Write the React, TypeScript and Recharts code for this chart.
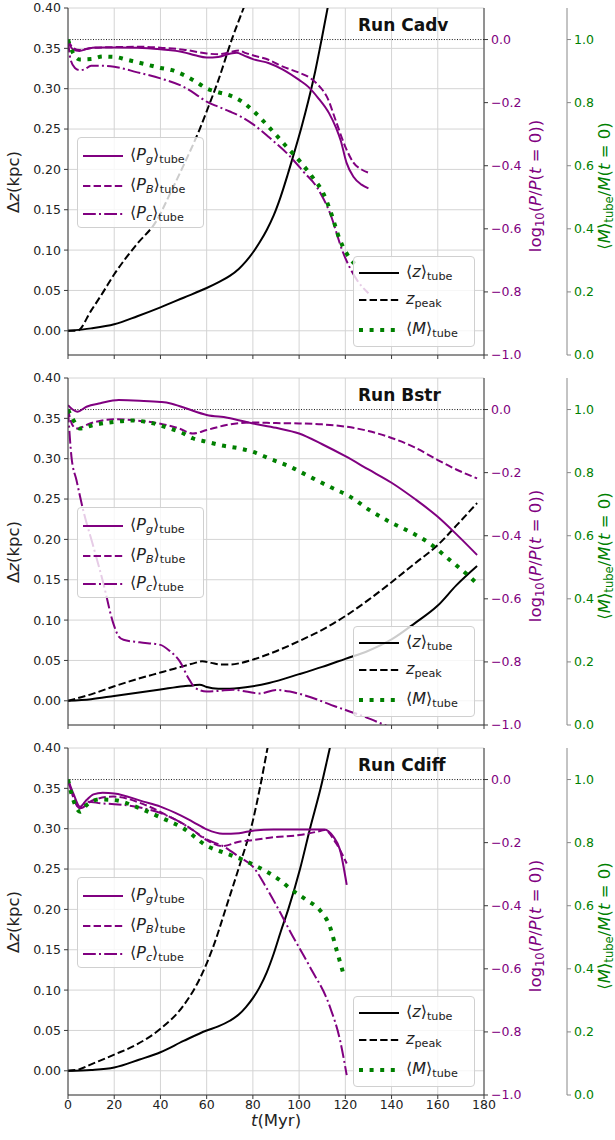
import React from 'react';
import { LineChart, Line, XAxis, YAxis, CartesianGrid, ReferenceLine } from 'recharts';

type Pt = [number, number];

// ---- tick values ----
const timeTicks = [0, 20, 40, 60, 80, 100, 120, 140, 160, 180];
const zTicks = [0, 0.05, 0.1, 0.15, 0.2, 0.25, 0.3, 0.35, 0.4];
const pTicks = [-1, -0.8, -0.6, -0.4, -0.2, 0];
const mTicks = [0, 0.2, 0.4, 0.6, 0.8, 1.0];

// ---- Run Cadv ----
const cadvZTube: Pt[] = [[0, 0], [10, 0.003], [20, 0.008], [30, 0.018], [40, 0.029], [50, 0.041], [60, 0.053], [65, 0.06], [70, 0.068], [74, 0.077], [77, 0.086], [80, 0.097], [83, 0.11], [86, 0.125], [89, 0.143], [92, 0.166], [95, 0.193], [98, 0.222], [101, 0.252], [104, 0.285], [107, 0.322], [110, 0.365], [113, 0.41]];
const cadvZPeak: Pt[] = [[0, 0], [4, 0], [10, 0.025], [15, 0.047], [20, 0.07], [25, 0.09], [30, 0.108], [38, 0.135], [45, 0.175], [50, 0.205], [57, 0.25], [60, 0.272], [65, 0.31], [71, 0.362], [76, 0.4], [78, 0.415]];
const cadvPg: Pt[] = [[0, -0.005], [2, -0.03], [5, -0.036], [8, -0.03], [12, -0.025], [20, -0.025], [30, -0.026], [40, -0.031], [50, -0.04], [55, -0.05], [60, -0.057], [65, -0.055], [70, -0.045], [73, -0.042], [76, -0.05], [80, -0.062], [87, -0.075], [93, -0.095], [100, -0.128], [104, -0.15], [108, -0.183], [113, -0.234], [116, -0.28], [118, -0.32], [120.5, -0.39], [123.5, -0.435], [127, -0.46], [130, -0.472]];
const cadvPB: Pt[] = [[0, 0], [2, -0.025], [5, -0.033], [10, -0.027], [20, -0.024], [32, -0.023], [40, -0.026], [50, -0.032], [60, -0.044], [65, -0.047], [70, -0.04], [74, -0.035], [77, -0.043], [80, -0.05], [87, -0.065], [93, -0.086], [100, -0.105], [105, -0.123], [109, -0.15], [112, -0.181], [116, -0.26], [120, -0.34], [123.5, -0.39], [127, -0.412], [130, -0.422]];
const cadvPc: Pt[] = [[0, 0], [1, -0.06], [3, -0.09], [5, -0.097], [7, -0.095], [10, -0.083], [15, -0.083], [20, -0.086], [30, -0.104], [40, -0.123], [50, -0.15], [55, -0.172], [60, -0.197], [65, -0.213], [70, -0.228], [75, -0.245], [80, -0.268], [87, -0.31], [96, -0.37], [102, -0.42], [107.6, -0.467], [113.4, -0.551], [119, -0.675], [125, -0.762], [130, -0.804]];
const cadvM: Pt[] = [[0, 1.0], [2, 0.96], [5, 0.937], [10, 0.938], [15, 0.946], [20, 0.945], [25, 0.937], [30, 0.928], [35, 0.919], [40, 0.91], [45, 0.903], [50, 0.888], [55, 0.868], [60, 0.845], [65, 0.833], [70, 0.823], [75, 0.805], [80, 0.775], [87, 0.722], [94, 0.665], [101, 0.608], [107, 0.552], [110, 0.52], [113.4, 0.459], [117.7, 0.364], [122, 0.306], [125.6, 0.28]];

// ---- Run Bstr ----
const bstrZTube: Pt[] = [[0, 0], [10, 0.002], [20, 0.006], [30, 0.01], [40, 0.014], [50, 0.018], [54, 0.019], [57, 0.02], [60, 0.017], [65, 0.015], [70, 0.015], [80, 0.018], [87, 0.022], [100, 0.033], [110, 0.042], [120, 0.052], [130, 0.062], [140, 0.076], [150, 0.096], [160, 0.118], [168, 0.143], [177, 0.167]];
const bstrZPeak: Pt[] = [[0, 0], [10, 0.008], [20, 0.018], [30, 0.027], [40, 0.035], [50, 0.043], [55, 0.047], [58, 0.049], [62, 0.047], [66, 0.045], [70, 0.045], [75, 0.047], [80, 0.051], [87, 0.058], [100, 0.074], [110, 0.088], [120, 0.105], [130, 0.125], [140, 0.147], [150, 0.17], [160, 0.193], [168, 0.217], [177, 0.245]];
const bstrPg: Pt[] = [[0, 0.014], [2, 0.0], [4, -0.007], [8, 0.009], [14, 0.02], [22, 0.03], [31, 0.028], [40, 0.024], [44, 0.02], [51, 0.004], [60, -0.017], [69, -0.026], [80, -0.044], [90, -0.058], [100, -0.076], [110, -0.11], [120, -0.148], [130, -0.19], [140, -0.232], [150, -0.283], [160, -0.34], [168, -0.395], [177, -0.461]];
const bstrPB: Pt[] = [[0, 0], [2, -0.05], [4, -0.06], [9.5, -0.044], [20, -0.031], [30, -0.035], [40, -0.045], [48, -0.06], [54, -0.076], [60, -0.065], [68, -0.05], [80, -0.041], [90, -0.043], [100, -0.044], [110, -0.047], [120, -0.054], [130, -0.068], [140, -0.09], [150, -0.12], [160, -0.16], [168, -0.19], [177, -0.218]];
const bstrPc: Pt[] = [[0, 0], [1.5, -0.15], [3.7, -0.225], [6.6, -0.32], [11, -0.435], [15.3, -0.551], [19.6, -0.678], [22, -0.72], [24, -0.73], [31, -0.738], [40, -0.746], [44, -0.765], [48.5, -0.8], [52, -0.85], [55, -0.882], [60, -0.894], [65, -0.892], [71.5, -0.888], [77, -0.894], [83, -0.9], [90, -0.889], [96, -0.894], [102, -0.905], [116, -0.942], [128, -0.973], [137, -1.0], [142, -1.015]];
const bstrM: Pt[] = [[0, 1.0], [2.3, 0.967], [5, 0.94], [11, 0.951], [20, 0.961], [28, 0.965], [37, 0.956], [44, 0.94], [50, 0.924], [54, 0.909], [60, 0.898], [66, 0.887], [74, 0.877], [80, 0.866], [87, 0.845], [96, 0.819], [104.6, 0.787], [113.3, 0.755], [122, 0.724], [130.5, 0.681], [139.2, 0.644], [147.8, 0.613], [156.5, 0.576], [165.2, 0.523], [173.8, 0.47], [176.8, 0.449]];

// ---- Run Cdiff ----
const cdiffZTube: Pt[] = [[0, 0], [10, 0.001], [20, 0.004], [31, 0.014], [40, 0.023], [50, 0.037], [60, 0.05], [65, 0.055], [70, 0.062], [74, 0.07], [77, 0.079], [80, 0.09], [83, 0.104], [86, 0.122], [89, 0.145], [92, 0.172], [95.3, 0.2], [100.4, 0.25], [104.7, 0.3], [109.3, 0.35], [113.3, 0.4], [114.5, 0.415]];
const cdiffZPeak: Pt[] = [[0, 0], [5, 0.002], [10, 0.008], [20, 0.02], [30, 0.033], [40, 0.052], [50, 0.081], [57, 0.114], [63, 0.155], [68.7, 0.205], [74.4, 0.256], [80, 0.31], [83, 0.35], [86, 0.395], [87, 0.41]];
const cdiffPg: Pt[] = [[0, 0], [2.3, -0.044], [5.2, -0.086], [8, -0.065], [11, -0.047], [15, -0.042], [20, -0.044], [32.6, -0.07], [40, -0.086], [48.5, -0.113], [54, -0.134], [60, -0.158], [67, -0.172], [74, -0.17], [80, -0.162], [89, -0.158], [100, -0.158], [111, -0.158], [114.8, -0.181], [117.7, -0.223], [120.6, -0.334]];
const cdiffPB: Pt[] = [[0, 0], [5.2, -0.091], [11, -0.065], [19.6, -0.054], [32.6, -0.078], [44, -0.118], [52, -0.15], [60, -0.192], [67, -0.211], [74, -0.197], [80, -0.192], [89, -0.183], [100, -0.176], [108, -0.165], [111, -0.16], [116, -0.202], [120.6, -0.266]];
const cdiffPc: Pt[] = [[0, 0], [5.2, -0.091], [8, -0.07], [15, -0.076], [20, -0.078], [32.6, -0.091], [44, -0.118], [54, -0.16], [60, -0.19], [67, -0.211], [74, -0.245], [80, -0.276], [86, -0.345], [91.7, -0.42], [96, -0.48], [104.6, -0.593], [113.3, -0.72], [117.7, -0.826], [120.6, -0.937]];
const cdiffM: Pt[] = [[0, 1.0], [2.3, 0.935], [5.2, 0.898], [8, 0.919], [13.8, 0.937], [20, 0.935], [30, 0.912], [40, 0.88], [50, 0.845], [60, 0.79], [68.7, 0.765], [77.3, 0.74], [86, 0.708], [91.7, 0.681], [96, 0.655], [103.2, 0.618], [109, 0.586], [113.3, 0.534], [116.2, 0.46], [119.1, 0.386]];

const PURPLE = '#800080';
const GREEN = '#008000';
const SPINE = '#3a3a3a';
const FONT = '"DejaVu Sans", sans-serif';

const toRows = (pts: Pt[]) => pts.map(([t, v]) => ({ t, v }));

const fmtP = (v: number) => (Math.abs(v) < 1e-9 ? '0.0' : (v < 0 ? '\u2212' : '') + Math.abs(v).toFixed(1));

type PanelProps = {
  title: string;
  zTube: Pt[];
  zPeak: Pt[];
  pg: Pt[];
  pb: Pt[];
  pc: Pt[];
  m: Pt[];
  top: number;
  height: number;
  showX: boolean;
};

const Sub = ({ children }: { children: React.ReactNode }) => (
  <span style={{ fontSize: '0.7em', position: 'relative', top: '0.3em' }}>{children}</span>
);

const LegendLine = ({ color, dash, width }: { color: string; dash?: string; width: number }) => (
  <svg width={40} height={10} style={{ display: 'block' }}>
    <line x1={0} y1={5} x2={40} y2={5} stroke={color} strokeWidth={width} strokeDasharray={dash} />
  </svg>
);

type LegItem = { y: number; line: React.ReactNode; label: React.ReactNode };

const LegendBox = ({ left, top, width, height, items }: { left: number; top: number; width: number; height: number; items: LegItem[] }) => (
  <div
    style={{
      position: 'absolute', left, top, width, height, boxSizing: 'border-box',
      background: 'rgba(255,255,255,0.8)', border: '1px solid #d0d0d0', borderRadius: 4,
    }}
  >
    {items.map((it, i) => (
      <React.Fragment key={i}>
        <div style={{ position: 'absolute', left: 5, top: it.y - 5 }}>{it.line}</div>
        <div style={{ position: 'absolute', left: 52, top: it.y - 11, fontSize: 16, lineHeight: '20px', whiteSpace: 'nowrap', color: '#222' }}>{it.label}</div>
      </React.Fragment>
    ))}
  </div>
);

const Panel = (p: PanelProps) => {
  const xh = p.height - 8 - 347;
  const lineCommon = { type: 'monotone' as const, dot: false, isAnimationActive: false, dataKey: 'v', xAxisId: 'b' };
  return (
    <div style={{ position: 'absolute', left: 0, top: p.top, width: 615, height: p.height }}>
      <LineChart width={615} height={p.height} margin={{ top: 8, right: 0, bottom: 0, left: 0 }}>
        <CartesianGrid xAxisId="b" yAxisId="z" stroke="#d4d4d4" strokeWidth={1} />
        <XAxis
          xAxisId="b" type="number" dataKey="t" domain={[0, 180]} ticks={timeTicks} allowDataOverflow interval={0}
          height={xh} tickSize={4} tickMargin={1}
          axisLine={{ stroke: SPINE }} tickLine={{ stroke: SPINE }}
          tick={{ fontSize: 12.5, fill: '#222', fontFamily: FONT }}
          tickFormatter={(v: number) => (p.showX ? String(v) : '')}
        />
        <XAxis xAxisId="top" orientation="top" type="number" domain={[0, 180]} height={0} tick={false} tickLine={false} axisLine={{ stroke: SPINE }} />
        <YAxis
          yAxisId="z" type="number" domain={[-0.03, 0.4]} ticks={zTicks} allowDataOverflow width={68} interval={0}
          tickSize={4} tickMargin={3} axisLine={{ stroke: SPINE }} tickLine={{ stroke: SPINE }}
          tick={{ fontSize: 12.5, fill: '#222', fontFamily: FONT }}
          tickFormatter={(v: number) => v.toFixed(2)}
        />
        <YAxis
          yAxisId="b_m" orientation="right" type="number" domain={[0, 1.1]} ticks={mTicks} allowDataOverflow width={48} interval={0}
          tickSize={4} tickMargin={3} axisLine={{ stroke: '#888' }} tickLine={{ stroke: '#888' }}
          tick={{ fontSize: 12.5, fill: GREEN, fontFamily: FONT }}
          tickFormatter={(v: number) => v.toFixed(1)}
        />
        <YAxis
          yAxisId="a_p" orientation="right" type="number" domain={[-1, 0.1]} ticks={pTicks} allowDataOverflow width={83} interval={0}
          tickSize={4} tickMargin={3} axisLine={{ stroke: SPINE }} tickLine={{ stroke: SPINE }}
          tick={{ fontSize: 12.5, fill: PURPLE, fontFamily: FONT }}
          tickFormatter={fmtP}
        />
        <ReferenceLine xAxisId="b" yAxisId="a_p" y={0} stroke="#000" strokeWidth={0.9} strokeDasharray="1 1.6" />
        <Line {...lineCommon} yAxisId="z" data={toRows(p.zTube)} stroke="#000" strokeWidth={2} />
        <Line {...lineCommon} yAxisId="z" data={toRows(p.zPeak)} stroke="#000" strokeWidth={2} strokeDasharray="7.4 3.2" />
        <Line {...lineCommon} yAxisId="a_p" data={toRows(p.pg)} stroke={PURPLE} strokeWidth={2} />
        <Line {...lineCommon} yAxisId="a_p" data={toRows(p.pb)} stroke={PURPLE} strokeWidth={2} strokeDasharray="7.4 3.2" />
        <Line {...lineCommon} yAxisId="a_p" data={toRows(p.pc)} stroke={PURPLE} strokeWidth={2} strokeDasharray="12.8 3.2 2 3.2" />
        <Line {...lineCommon} yAxisId="b_m" data={toRows(p.m)} stroke={GREEN} strokeWidth={4} strokeDasharray="4 6.6" />
      </LineChart>

      {/* title */}
      <div style={{ position: 'absolute', left: 358, top: 15, fontSize: 17, fontWeight: 'bold', lineHeight: '20px', color: '#111' }}>{p.title}</div>

      {/* left axis label */}
      <div style={{ position: 'absolute', left: 14 - 100, top: 182 - 11, width: 200, height: 22, lineHeight: '22px', textAlign: 'center', fontSize: 16.5, color: '#222', transform: 'rotate(-90deg)' }}>
        Δ<i>z</i>(kpc)
      </div>
      {/* purple right label */}
      <div style={{ position: 'absolute', left: 536 - 130, top: 186 - 11, width: 260, height: 22, lineHeight: '22px', textAlign: 'center', fontSize: 16.5, color: PURPLE, transform: 'rotate(-90deg)', whiteSpace: 'nowrap' }}>
        log<Sub>10</Sub>(<i>P</i>/<i>P</i>(<i>t</i> = 0))
      </div>
      {/* green right label */}
      <div style={{ position: 'absolute', left: 605 - 130, top: 186 - 11, width: 260, height: 22, lineHeight: '22px', textAlign: 'center', fontSize: 16.5, color: GREEN, transform: 'rotate(-90deg)', whiteSpace: 'nowrap' }}>
        ⟨<i>M</i>⟩<Sub>tube</Sub>/<i>M</i>(<i>t</i> = 0)
      </div>

      <LegendBox
        left={77} top={137} width={127} height={91}
        items={[
          { y: 18, line: <LegendLine color={PURPLE} width={2} />, label: <span>⟨<i>P</i><Sub><i>g</i></Sub>⟩<Sub>tube</Sub></span> },
          { y: 48, line: <LegendLine color={PURPLE} width={2} dash="7.4 3.2" />, label: <span>⟨<i>P</i><Sub><i>B</i></Sub>⟩<Sub>tube</Sub></span> },
          { y: 76, line: <LegendLine color={PURPLE} width={2} dash="12.8 3.2 2 3.2" />, label: <span>⟨<i>P</i><Sub><i>c</i></Sub>⟩<Sub>tube</Sub></span> },
        ]}
      />
      <LegendBox
        left={353} top={256} width={122} height={91}
        items={[
          { y: 16, line: <LegendLine color="#000" width={2} />, label: <span>⟨<i>z</i>⟩<Sub>tube</Sub></span> },
          { y: 43, line: <LegendLine color="#000" width={2} dash="7.4 3.2" />, label: <span><i>z</i><Sub>peak</Sub></span> },
          { y: 73, line: <LegendLine color={GREEN} width={4} dash="4 6.6" />, label: <span>⟨<i>M</i>⟩<Sub>tube</Sub></span> },
        ]}
      />

      {p.showX && (
        <div style={{ position: 'absolute', left: 276 - 60, top: 370, width: 120, textAlign: 'center', fontSize: 16.5, lineHeight: '22px', color: '#222' }}>
          <i>t</i>(Myr)
        </div>
      )}
    </div>
  );
};

export default function App() {
  return (
    <div style={{ position: 'absolute', left: 0, top: 0, width: 615, height: 1140, background: '#fff', fontFamily: FONT, overflow: 'hidden' }}>
      <Panel title="Run Cadv" zTube={cadvZTube} zPeak={cadvZPeak} pg={cadvPg} pb={cadvPB} pc={cadvPc} m={cadvM} top={0} height={370} showX={false} />
      <Panel title="Run Bstr" zTube={bstrZTube} zPeak={bstrZPeak} pg={bstrPg} pb={bstrPB} pc={bstrPc} m={bstrM} top={370} height={370} showX={false} />
      <Panel title="Run Cdiff" zTube={cdiffZTube} zPeak={cdiffZPeak} pg={cdiffPg} pb={cdiffPB} pc={cdiffPc} m={cdiffM} top={740} height={400} showX={true} />
    </div>
  );
}
